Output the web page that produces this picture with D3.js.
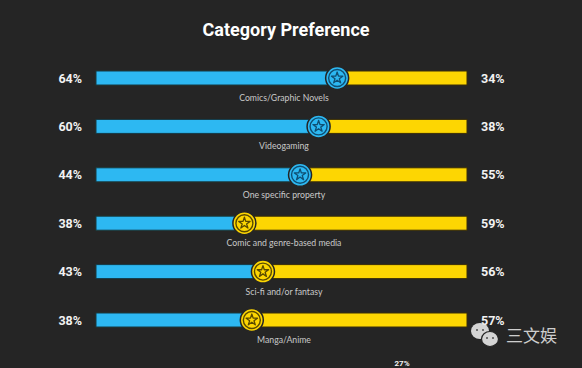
<!DOCTYPE html>
<html>
<head>
<meta charset="utf-8">
<script src="https://cdn.jsdelivr.net/npm/d3@7"></script>
<style>
  html, body { margin: 0; padding: 0; background: #252525; }
  svg { display: block; }
</style>
</head>
<body>
<div id="chart"></div>
<script>
// data
const categories = ['Comics/Graphic Novels', 'Videogaming', 'One specific property',
  'Comic and genre-based media', 'Sci-fi and/or fantasy', 'Manga/Anime'];
const leftValues = [64, 60, 44, 38, 43, 38];   // blue side
const rightValues = [34, 38, 55, 59, 56, 57];  // yellow side
// where the star marker sits along the bar (percent of bar length)
const markerPos = [65, 60, 55, 40, 45, 42];

const width = 582, height = 368;
const blue = '#2db8f2', yellow = '#fdd602', bg = '#252525';

const svg = d3.select('#chart').append('svg')
  .attr('width', width)
  .attr('height', height);

svg.append('rect').attr('width', width).attr('height', height).attr('fill', bg);

svg.append('text')
  .attr('x', 286).attr('y', 36)
  .attr('text-anchor', 'middle')
  .attr('fill', '#fff')
  .style('font-family', 'Roboto, Arial, sans-serif')
  .style('font-weight', 700)
  .style('font-size', '18px')
  .text('Category Preference');

const x = d3.scaleLinear().domain([0, 100]).range([96, 467]);
const y = d3.scaleLinear().domain([0, categories.length - 1]).range([78, 320]);
const barH = 14;

const rows = svg.selectAll('.row')
  .data(categories.map((c, i) => ({ c, l: leftValues[i], r: rightValues[i], m: markerPos[i], i })))
  .enter().append('g')
  .attr('class', 'row')
  .attr('transform', d => `translate(0,${y(d.i)})`);

// yellow full bar, blue on top up to the marker
rows.append('rect')
  .attr('x', x(0)).attr('y', -barH / 2)
  .attr('width', x(100) - x(0)).attr('height', barH)
  .attr('fill', yellow)
  .attr('stroke', '#3a2e08').attr('stroke-width', 1);

rows.append('rect')
  .attr('x', x(0)).attr('y', -barH / 2)
  .attr('width', d => x(d.m) - x(0)).attr('height', barH)
  .attr('fill', blue)
  .attr('stroke', '#123848').attr('stroke-width', 1);

const star = d3.symbol().type(d3.symbolStar).size(40);

const marker = rows.append('g')
  .attr('transform', d => `translate(${x(d.m)},0)`);

marker.append('circle')
  .attr('r', 11.5)
  .attr('fill', d => d.m > 50 ? blue : yellow)
  .attr('stroke', bg).attr('stroke-width', 1.5);
marker.append('circle')
  .attr('r', 8.5)
  .attr('fill', 'none')
  .attr('stroke', d => d.m > 50 ? '#0f4f73' : '#5a4a00')
  .attr('stroke-width', 1.4);
marker.append('path')
  .attr('d', star)
  .attr('fill', 'none')
  .attr('stroke', d => d.m > 50 ? '#0f4f73' : '#5a4a00')
  .attr('stroke-width', 1.3)
  .attr('stroke-linejoin', 'round');

rows.append('text')
  .attr('x', 82).attr('y', 4.5)
  .attr('text-anchor', 'end')
  .attr('fill', '#f2f2f2')
  .style('font-family', 'Roboto, Arial, sans-serif')
  .style('font-weight', 700)
  .style('font-size', '12.5px')
  .text(d => d.l + '%');

rows.append('text')
  .attr('x', 481).attr('y', 4.5)
  .attr('fill', '#f2f2f2')
  .style('font-family', 'Roboto, Arial, sans-serif')
  .style('font-weight', 700)
  .style('font-size', '12.5px')
  .text(d => d.r + '%');

rows.append('text')
  .attr('x', 284).attr('y', 23)
  .attr('text-anchor', 'middle')
  .attr('fill', '#c9c9c9')
  .style('font-family', 'Lato, Arial, sans-serif')
  .style('font-size', '8.7px')
  .text(d => d.c);

// label of the next (cropped) row at the bottom edge
svg.append('text')
  .attr('x', 402).attr('y', 366)
  .attr('text-anchor', 'middle')
  .attr('fill', '#f2f2f2')
  .style('font-family', 'Roboto, Arial, sans-serif')
  .style('font-weight', 700)
  .style('font-size', '8px')
  .text('27%');

// watermark
const wm = svg.append('g').attr('transform', 'translate(480,334)').attr('opacity', 0.9);
wm.append('ellipse').attr('cx', 0).attr('cy', -3).attr('rx', 9).attr('ry', 8).attr('fill', '#e8e8e8');
wm.append('ellipse').attr('cx', 10).attr('cy', 5).attr('rx', 8.5).attr('ry', 7.5)
  .attr('fill', '#e8e8e8').attr('stroke', bg).attr('stroke-width', 1.2);
[[-3, -4], [3, -4], [7, 4], [13, 4]].forEach(p => {
  wm.append('circle').attr('cx', p[0]).attr('cy', p[1]).attr('r', 1).attr('fill', '#555');
});
wm.append('text')
  .attr('x', 26).attr('y', 8)
  .attr('fill', '#e0e0e0')
  .style('font-family', '"Noto Sans CJK SC", sans-serif')
  .style('font-size', '17px')
  .text('三文娱');
</script>
</body>
</html>
